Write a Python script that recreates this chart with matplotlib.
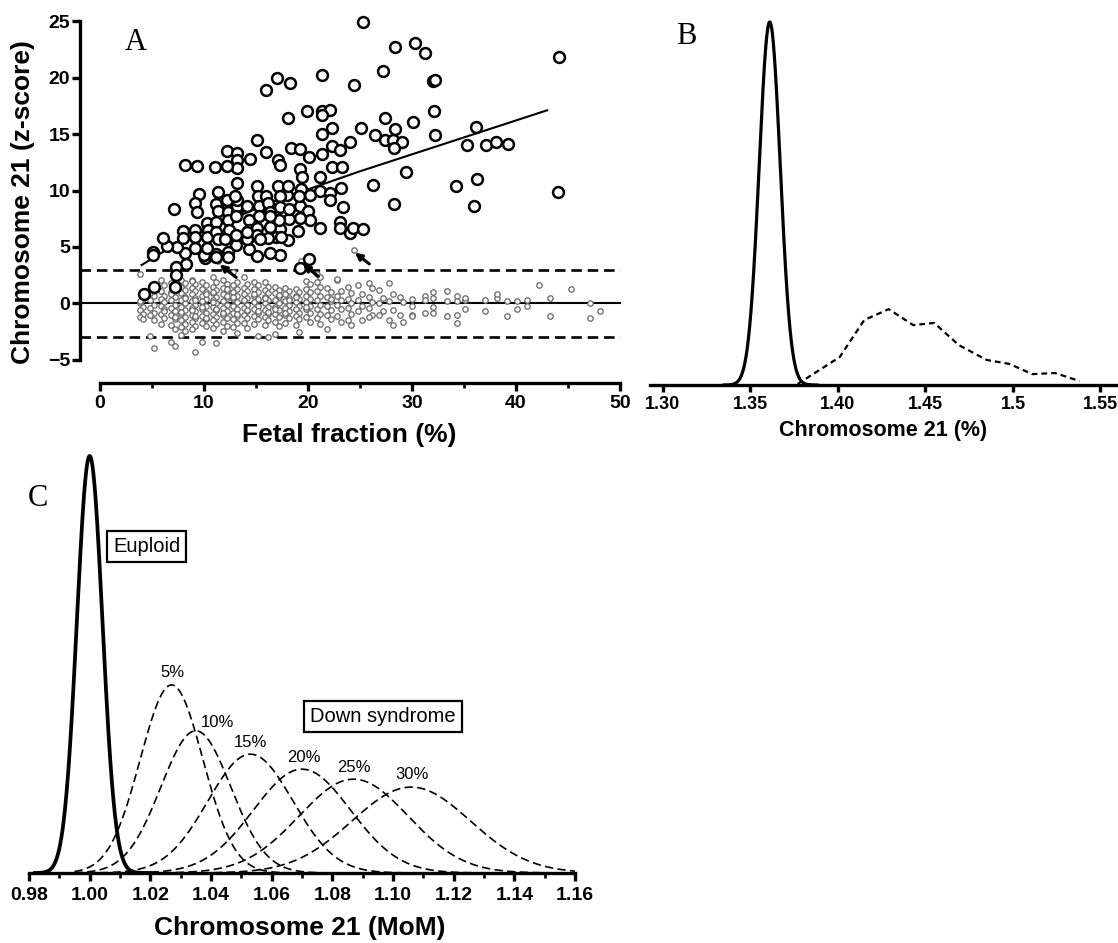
import numpy as np
import matplotlib
matplotlib.use("Agg")
import matplotlib.pyplot as plt

plt.rcParams['font.family'] = ['Liberation Sans', 'DejaVu Sans']

# ---- panel A: trisomy 21 cases (fetal fraction %, chr21 z-score)
t21_ff = [25.3, 28.4, 30.3, 31.3, 27.2, 32.0, 32.2, 24.4, 21.3, 17.0,
          18.3, 16.0, 18.1, 19.9, 21.3, 22.1, 21.3, 27.4, 30.1, 32.1,
          25.1, 22.3, 21.3, 24.0, 26.4, 27.4, 28.4, 28.2, 29.0, 28.3,
          32.2, 29.4, 26.3, 28.3, 15.1, 12.2, 13.2, 13.2, 13.2, 14.4,
          12.2, 8.2, 9.3, 11.1, 16.0, 17.1, 17.3, 18.4, 19.2, 20.1,
          21.3, 22.3, 23.1, 22.3, 23.3, 19.2, 19.4, 21.2, 19.3, 20.2,
          21.2, 22.1, 22.1, 23.2, 23.4, 18.0, 19.2, 20.0, 20.2, 19.2,
          18.2, 21.2, 23.1, 23.1, 24.0, 24.3, 25.3, 19.0, 18.1, 17.3,
          16.9, 17.4, 17.3, 16.3, 15.1, 14.3, 13.1, 12.3, 12.3, 11.2,
          11.2, 10.1, 10.0, 8.3, 9.1, 8.2, 7.4, 6.4, 5.1, 5.1,
          6.1, 7.1, 8.0, 8.0, 9.1, 9.1, 9.5, 9.1, 9.3, 11.3,
          11.2, 11.3, 10.3, 10.4, 10.3, 11.2, 11.2, 11.3, 12.2, 12.3,
          12.3, 12.4, 13.2, 13.2, 13.2, 14.1, 14.3, 14.3, 14.3, 15.1,
          15.2, 15.3, 15.3, 15.1, 15.1, 16.0, 16.2, 16.3, 16.3, 16.2,
          17.1, 17.3, 17.3, 17.2, 18.2, 10.3, 14.1, 13.1, 13.2, 4.2,
          5.2, 7.2, 7.3, 7.3, 19.2, 20.1, 44.1, 44.0, 36.2, 35.3,
          37.1, 38.1, 39.2, 34.2, 36.3, 36.0, 12.2, 13.0, 13.1, 16.3,
          18.1, 19.1, 15.4, 12.0, 14.1]
t21_z = [24.9, 22.7, 23.1, 22.2, 20.6, 19.7, 19.8, 19.3, 20.2, 20.0,
         19.5, 18.9, 16.4, 17.0, 17.0, 17.1, 16.7, 16.4, 16.1, 17.0,
         15.5, 15.5, 15.0, 14.3, 14.9, 14.5, 15.4, 14.5, 14.3, 13.8,
         14.9, 11.6, 10.5, 8.8, 14.5, 13.5, 13.3, 12.7, 12.0, 12.8,
         12.2, 12.3, 12.2, 12.1, 13.4, 12.7, 12.3, 13.8, 13.7, 13.0,
         13.2, 13.9, 13.6, 12.1, 12.1, 11.9, 11.2, 11.2, 10.1, 9.6,
         10.0, 9.8, 9.2, 10.2, 8.5, 9.6, 8.6, 8.2, 7.4, 7.6,
         7.5, 6.7, 7.2, 6.7, 6.2, 6.7, 6.6, 6.4, 5.6, 6.6,
         5.9, 5.9, 4.3, 4.5, 4.2, 4.8, 5.2, 4.6, 4.1, 4.4,
         4.1, 4.0, 4.3, 3.5, 4.9, 4.5, 5.0, 5.1, 4.6, 4.3,
         5.8, 8.4, 6.4, 5.8, 6.5, 5.9, 9.7, 8.9, 8.1, 9.9,
         8.8, 8.2, 7.1, 6.5, 5.9, 7.2, 6.3, 5.7, 8.9, 8.1,
         7.4, 6.5, 8.1, 8.6, 9.2, 8.6, 7.4, 6.5, 5.9, 10.4,
         9.5, 8.6, 7.7, 6.7, 6.1, 9.5, 8.9, 8.1, 6.8, 5.8,
         10.4, 9.5, 8.5, 7.4, 8.4, 4.9, 5.7, 6.1, 10.7, 0.8,
         1.5, 1.5, 3.2, 2.5, 3.1, 3.9, 21.8, 9.9, 15.6, 14.0,
         14.0, 14.3, 14.1, 10.4, 11.0, 8.6, 9.2, 9.5, 7.7, 7.7,
         10.4, 9.5, 5.7, 5.7, 6.3]

# ---- panel A: euploid cases, one column per fetal fraction value
eu_cols = [4, 5, 6, 7, 8, 9, 10, 11, 12, 13, 14, 15, 16, 17, 18, 19, 20,
           21, 22, 23, 24, 25, 26, 27, 28, 29, 30, 31.3, 32.0, 33.4, 34.3,
           35.1, 37.0, 38.2, 39.1, 40.1, 41.1, 42.2, 43.3, 45.3, 47.1, 48.1]
eu_z = [
    [2.6, 0.4, 0.0, -0.3, -0.6, -0.9, -1.2, -1.4, 0.2],
    [1.2, 0.7, 0.3, -0.1, -0.4, -0.8, -1.0, -1.5, -2.9, -3.9, 0.9],
    [2.1, 1.6, 1.1, 0.7, 0.4, 0.1, -0.2, -0.5, -0.9, -1.3, -1.8, -0.7],
    [1.8, 1.4, 1.0, 0.6, 0.3, -0.1, -0.4, -0.7, -1.0, -1.4, -1.9, -2.3,
     -3.4, -3.8, 0.8, -1.2],
    [2.1, 1.8, 1.5, 1.2, 0.9, 0.6, 0.3, 0.0, -0.3, -0.6, -0.9, -1.2, -1.5,
     -1.8, -2.1, -2.4, -2.8, 0.45, -0.75],
    [2.1, 1.7, 1.4, 1.1, 0.8, 0.5, 0.2, -0.1, -0.4, -0.7, -1.0, -1.3, -1.6,
     -2.0, -2.3, -4.3, 1.95, 0.35, -0.55, -1.15],
    [1.9, 1.6, 1.3, 1.0, 0.7, 0.4, 0.1, -0.2, -0.5, -0.8, -1.1, -1.4, -1.7,
     -2.0, -3.4, 0.85, -0.35, -1.25, 0.25],
    [2.3, 1.9, 1.5, 1.2, 0.9, 0.6, 0.3, 0.0, -0.3, -0.6, -0.9, -1.2, -1.5,
     -1.8, -2.2, -3.5, 1.05, -0.45, 0.15],
    [2.1, 1.7, 1.4, 1.1, 0.8, 0.5, 0.2, -0.1, -0.4, -0.7, -1.0, -1.3, -1.6,
     -2.0, -2.4, 0.65, -0.85, 1.25],
    [2.8, 1.9, 1.6, 1.3, 1.0, 0.7, 0.4, 0.1, -0.2, -0.5, -0.8, -1.1, -1.4,
     -1.7, -2.1, -2.6, 0.55, -0.95],
    [2.3, 1.7, 1.4, 1.1, 0.8, 0.5, 0.2, -0.1, -0.4, -0.7, -1.0, -1.3, -1.7,
     -2.2, 0.35, -0.55],
    [1.9, 1.6, 1.3, 1.0, 0.7, 0.4, 0.1, -0.2, -0.5, -0.8, -1.1, -1.4, -1.8,
     -2.9, 0.85, -0.65],
    [1.9, 1.5, 1.2, 0.9, 0.6, 0.3, 0.0, -0.3, -0.6, -0.9, -1.2, -1.5, -1.9,
     -3.0, 0.45, -0.75],
    [1.5, 1.2, 0.9, 0.6, 0.3, 0.0, -0.3, -0.6, -0.9, -1.2, -1.6, -2.0, -2.7,
     0.75, -0.45],
    [1.4, 1.1, 0.8, 0.5, 0.2, -0.1, -0.4, -0.7, -1.0, -1.3, -1.7, 0.35, -0.85],
    [1.3, 1.0, 0.7, 0.4, 0.1, -0.2, -0.5, -0.8, -1.1, -1.4, -1.9, -2.5, 0.55],
    [2.0, 1.7, 1.3, 1.0, 0.7, 0.4, 0.1, -0.2, -0.5, -0.8, -1.2, -1.6, -0.35],
    [2.6, 2.3, 1.9, 1.5, 1.1, 0.7, 0.3, -0.1, -0.5, -0.9, -1.3, -1.8],
    [1.4, 1.0, 0.6, 0.2, -0.2, -0.6, -1.0, -1.4, -2.3, 0.4],
    [2.1, 1.1, 0.7, 0.3, -0.1, -0.5, -1.1, -1.6, 2.2],
    [1.5, 0.9, 0.4, 0.0, -0.4, -0.9, -1.5, -1.9],
    [1.6, 0.8, 0.3, -0.2, -0.7, -1.5],
    [1.8, 1.4, 0.6, 0.1, -0.4, -1.0, -1.2],
    [1.2, 0.5, 0.0, -0.7, -1.0],
    [1.8, 0.8, 0.2, -0.6, -1.5, -1.9],
    [0.6, 0.1, -1.0, -1.6],
    [0.4, -0.2, -1.0, -1.1],
    [0.7, 0.3, -0.8],
    [1.0, 0.5, -0.3, -0.8],
    [1.1, 0.2, -1.1],
    [0.7, 0.2, -1.0, -1.7],
    [0.3, -0.5, 0.5],
    [0.3, -0.7],
    [0.5, 0.8],
    [0.2, -1.1],
    [0.2, -0.5],
    [0.35, -0.2],
    [1.6],
    [0.45, -1.1],
    [1.3],
    [0.0, -1.3],
    [-0.7],
]

# euploid cases above the cut-off, marked with arrows
flag_ff = [11.3, 19.3, 24.4]
flag_z = [3.8, 3.8, 4.7]
arrow_tail = [(13.1, 2.3), (21.0, 2.4), (25.9, 3.5)]
arrow_head = [(11.5, 3.45), (19.5, 3.45), (24.5, 4.5)]

# regression line through the trisomy cases
fit_ff = [4, 7, 10, 13, 16, 20, 25, 30, 35, 43]
fit_z = [3.4, 5.1, 6.4, 7.6, 8.8, 10.1, 11.7, 13.2, 14.7, 17.1]

# ---- panel B: chr21 percentage distributions
b_euploid = dict(mean=1.361, sd=0.006, peak=100)
b_t21_x = [1.377, 1.401, 1.415, 1.429, 1.443, 1.455, 1.469, 1.485, 1.498,
           1.511, 1.524, 1.538]
b_t21_y = [0.3, 7.7, 17.9, 20.9, 16.5, 17.1, 11.0, 6.9, 5.8, 3.0, 3.3, 1.1]
b_ticks = [1.30, 1.35, 1.40, 1.45, 1.50, 1.55]
b_ticklabels = ["1.30", "1.35", "1.40", "1.45", "1.5", "1.55"]

# ---- panel C: modelled MoM distributions
c_euploid = dict(mean=1.000, sd=0.0042, peak=100)
c_ff_labels = ["5%", "10%", "15%", "20%", "25%", "30%"]
c_means = [1.027, 1.035, 1.053, 1.070, 1.087, 1.106]
c_sds = [0.0103, 0.0115, 0.014, 0.016, 0.018, 0.0195]
c_peaks = [45.1, 34.1, 28.5, 24.9, 22.5, 20.6]
c_label_x = [1.0273, 1.0422, 1.0531, 1.0705, 1.0870, 1.1062]
c_label_y = [48.2, 36.0, 31.2, 27.8, 25.2, 23.7]


def bell(x, mean, sd, peak):
    return peak * np.exp(-0.5 * ((x - mean) / sd) ** 2)


def prism_axis(ax, lw=2.4):
    for s in ['top', 'right']:
        ax.spines[s].set_visible(False)
    for s in ['left', 'bottom']:
        ax.spines[s].set_linewidth(lw)
    ax.tick_params(which='major', direction='out', length=6, width=lw)
    ax.tick_params(which='minor', direction='out', length=3.5, width=lw * 0.8)


fig = plt.figure(figsize=(11.18, 9.43), dpi=100)

# ---------------- A
axA = fig.add_axes([80 / 1118, 560 / 943, 541 / 1118, 367.6 / 943])
prism_axis(axA)
axA.set_xlim(-1.923, 50.1)
axA.set_ylim(-7.04, 25.5)
axA.spines['left'].set_bounds(-5, 25)
axA.spines['bottom'].set_bounds(0, 50)
axA.set_xticks([0, 10, 20, 30, 40, 50])
axA.set_xticks([5, 15, 25, 35, 45], minor=True)
axA.set_yticks([-5, 0, 5, 10, 15, 20, 25])
axA.tick_params(axis='y', pad=1)
axA.tick_params(axis='x', pad=3)
for lab in axA.get_xticklabels() + axA.get_yticklabels():
    lab.set_fontsize(14)
    lab.set_fontweight('bold')

axA.plot([-1.923, 50], [0, 0], color='black', lw=1.5, zorder=1)
for thr in (3, -3):
    axA.plot([-1.923, 50], [thr, thr], color='black', lw=1.9,
             dashes=(4, 2.2), zorder=1)

# stagger the points of each column a little, as in the original stripes
xs, ys = [], []
for ff, zs in zip(eu_cols, eu_z):
    for i, z in enumerate(zs):
        xs.append(ff + (0.18 if i % 2 else -0.18) * (ff < 30))
        ys.append(z)
axA.plot(xs, ys, 'o', ms=3.9, mfc='white', mec='0.4', mew=0.9, zorder=2)
axA.plot(flag_ff, flag_z, 'o', ms=3.9, mfc='white', mec='0.4', mew=0.9,
         zorder=2)
axA.plot(fit_ff, fit_z, color='black', lw=1.5, zorder=3)
axA.plot(t21_ff, t21_z, 'o', ms=7.8, mfc='white', mec='black', mew=1.8,
         zorder=4)
for tail, head in zip(arrow_tail, arrow_head):
    axA.annotate('', xy=head, xytext=tail, zorder=5,
                 arrowprops=dict(arrowstyle='-|>', color='black', lw=2.2,
                                 mutation_scale=10, shrinkA=0, shrinkB=0))

axA.set_xlabel('Fetal fraction (%)', fontsize=19, fontweight='bold',
               va='center')
axA.xaxis.set_label_coords(0.497, -0.1415)
axA.set_ylabel('Chromosome 21 (z-score)', fontsize=19, fontweight='bold',
               va='center')
axA.yaxis.set_label_coords(-0.106, 0.492)

# ---------------- B
axB = fig.add_axes([650 / 1118, 558 / 943, 468 / 1118, 363 / 943])
prism_axis(axB, lw=2.4)
axB.spines['left'].set_visible(False)
axB.set_yticks([])
axB.set_xlim(1.2926, 1.5600)
axB.set_ylim(0, 100)
axB.set_xticks(b_ticks)
axB.set_xticklabels(b_ticklabels, fontsize=13, fontweight='bold')
axB.tick_params(axis='x', length=5, pad=3)

xb = np.linspace(1.335, 1.388, 300)
axB.plot(xb, bell(xb, **b_euploid), color='black', lw=2.3, clip_on=False)
axB.plot(b_t21_x, b_t21_y, color='black', lw=1.6, dashes=(2.6, 1.8))
axB.set_xlabel('Chromosome 21 (%)', fontsize=15.5, fontweight='bold',
               va='center')
axB.xaxis.set_label_coords(0.498, -0.124)

# ---------------- C
axC = fig.add_axes([29 / 1118, 70 / 943, 546 / 1118, 417 / 943])
prism_axis(axC, lw=2.4)
axC.spines['left'].set_visible(False)
axC.set_yticks([])
axC.set_xlim(0.98, 1.16)
axC.set_ylim(0, 100)
axC.set_xticks(np.arange(0.98, 1.1601, 0.02))
axC.set_xticks(np.arange(0.99, 1.16, 0.02), minor=True)
axC.set_xticklabels(['%.2f' % t for t in np.arange(0.98, 1.1601, 0.02)],
                    fontsize=14, fontweight='bold')
axC.tick_params(axis='x', which='both', pad=4)

xe = np.linspace(0.982, 1.02, 300)
axC.plot(xe, bell(xe, **c_euploid), color='black', lw=2.7, clip_on=False,
         zorder=3)
xd = np.linspace(0.995, 1.16, 500)
for m, s, p in zip(c_means, c_sds, c_peaks):
    axC.plot(xd, bell(xd, m, s, p), color='black', lw=1.2, dashes=(5, 2.6),
             zorder=2)
for lab, lx, ly in zip(c_ff_labels, c_label_x, c_label_y):
    axC.text(lx, ly, lab, fontsize=12, ha='center', va='center')

box = dict(boxstyle='square,pad=0.3', fc='white', ec='black', lw=1.6)
axC.text(1.0188, 78.4, 'Euploid', fontsize=14.5, ha='center', va='center',
         bbox=box)
axC.text(1.0966, 37.6, 'Down syndrome', fontsize=14.5, ha='center',
         va='center', bbox=box)
axC.set_xlabel('Chromosome 21 (MoM)', fontsize=19, fontweight='bold',
               va='center')
axC.xaxis.set_label_coords(0.496, -0.132)

# panel letters
for letter, px, py in [('A', 136, 43), ('B', 686, 36), ('C', 38, 498)]:
    fig.text(px / 1118, 1 - py / 943, letter, fontsize=22,
             family='Liberation Serif', ha='center', va='center')

fig.savefig('out.png', dpi=100)
